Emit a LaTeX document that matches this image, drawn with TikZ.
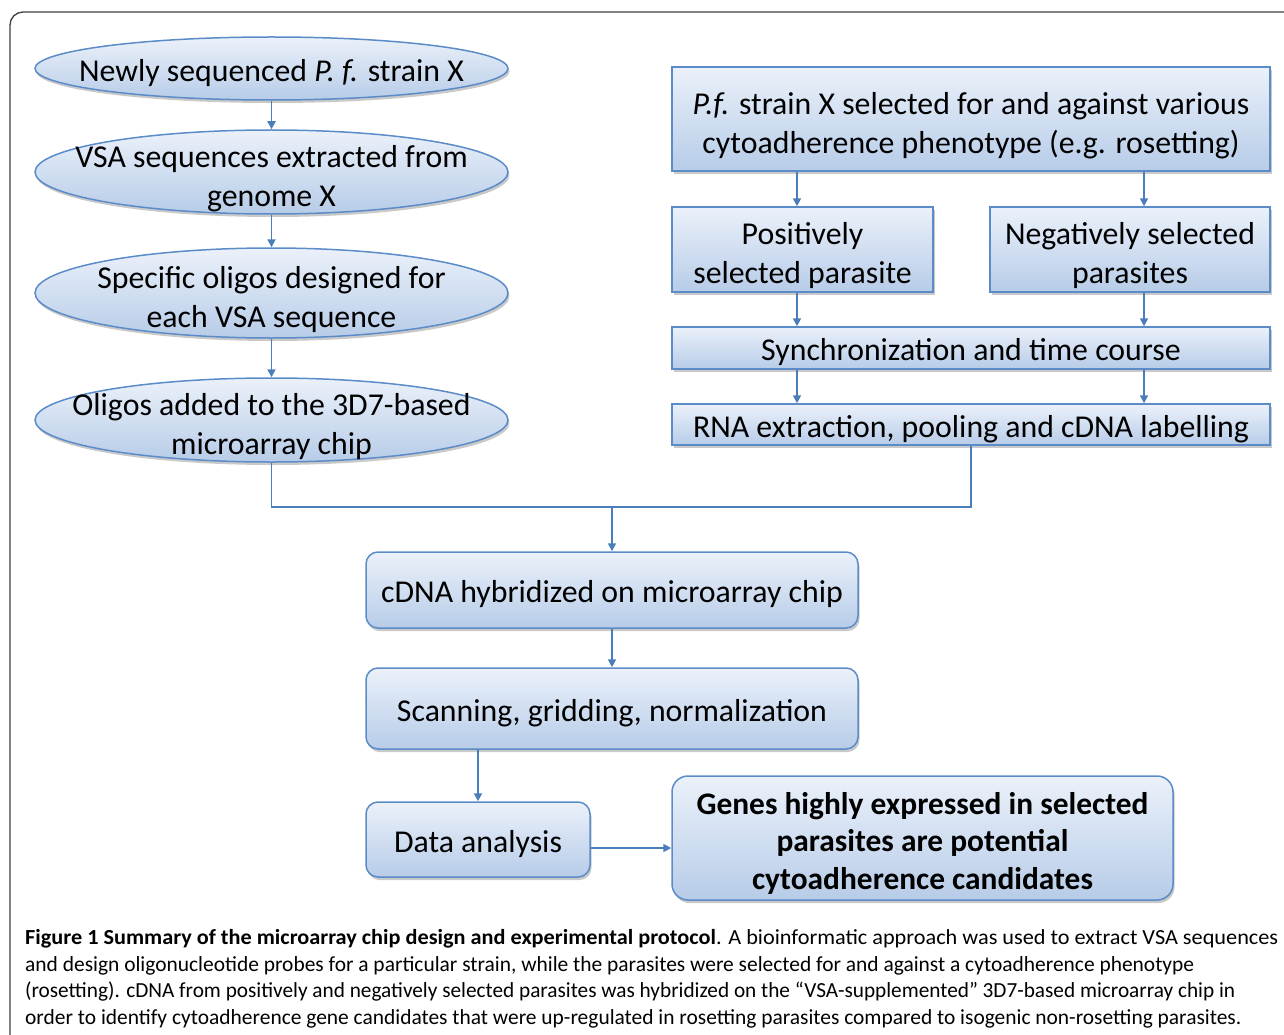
\documentclass[tikz,border=0pt]{standalone}
\usepackage{fontspec}
\usepackage{graphicx}
\setmainfont{Carlito}
\newfontfamily\capfont{Carlito}
\usetikzlibrary{shapes.geometric,arrows.meta,shadows}
\definecolor{bord}{HTML}{5B8CC8}
\definecolor{arrc}{HTML}{4A7EBB}
\definecolor{ftop}{HTML}{EBF1FA}
\definecolor{fbot}{HTML}{B7CCE8}
\newcommand\capline[2]{\resizebox{#1}{\height}{#2}}
\newcommand\tp[1]{\rule{0pt}{\dimexpr\fontcharht\font`(+#1\relax}}
\tikzset{
  boxbase/.style={draw=bord, line width=1.5pt, top color=ftop, bottom color=fbot,
    drop shadow={shadow xshift=1.5pt, shadow yshift=-3pt, opacity=0.35, fill=black!60},
    inner sep=0pt, font=\fontsize{31.8}{39}\selectfont, align=center,
    execute at begin node={\tp{7.5pt}}},
  ell/.style={boxbase, ellipse, execute at begin node={}},
  sq/.style={boxbase, rectangle},
  rnd/.style={boxbase, rectangle, rounded corners=12pt},
  txt/.style={inner sep=0pt, font=\fontsize{31.8}{39}\selectfont, align=center},
  arr/.style={draw=arrc, line width=1.8pt, -{Triangle[width=8pt,length=8pt]}},
  ln/.style={draw=arrc, line width=1.8pt},
  captxt/.style={inner sep=0pt, anchor=base west, font=\capfont\fontsize{21.5}{26}\selectfont}
}
\begin{document}
\begin{tikzpicture}[x=1pt,y=-1pt]
\useasboundingbox (0,0) rectangle (1284,1035);
\clip (0,0) rectangle (1284,1035);
\fill[white] (0,0) rectangle (1284,1035);
\draw[black!75, line width=1.3pt, rounded corners=13pt] (10,1060) -- (10,12) -- (1310,12);

% left column
\node[ell, minimum width=473pt, minimum height=63pt] (e1) at (271.5,68.5) {};
\node[txt] (t1) at (271.5,73) {Newly sequenced \textit{P. f.} strain X};
\node[ell, minimum width=473pt, minimum height=84pt] (e2) at (271.5,172) {};
\node[txt] (t2) at (271.5,179) {VSA sequences extracted from\\genome X};
\node[ell, minimum width=473pt, minimum height=90pt] (e3) at (271.5,293) {};
\node[txt] (t3) at (271.5,300) {Specific oligos designed for\\each VSA sequence};
\node[ell, minimum width=473pt, minimum height=84pt] (e4) at (271.5,420) {};
\node[txt] (t4) at (271.5,427) {Oligos added to the 3D7-based\\microarray chip};

% right column
\node[sq, minimum width=598pt, minimum height=104pt] (r1) at (971,119) {\tp{13pt}\textit{P.f.} strain X selected for and against various\\cytoadherence phenotype (e.g. rosetting)};
\node[sq, minimum width=261pt, minimum height=85pt] (pos) at (802.5,249.5) {\tp{11pt}Positively\\selected parasite};
\node[sq, minimum width=280pt, minimum height=85pt] (neg) at (1130,249.5) {\tp{11pt}Negatively selected\\parasites};
\node[sq, minimum width=598pt, minimum height=42pt] (sync) at (971,348) {Synchronization and time course};
\node[sq, minimum width=598pt, minimum height=41pt] (rna) at (971,424.5) {RNA extraction, pooling and cDNA labelling};

% lower
\node[rnd, minimum width=492pt, minimum height=76pt] (cdna) at (612,590) {cDNA hybridized on microarray chip};
\node[rnd, minimum width=492pt, minimum height=81pt] (scan) at (612,708.5) {Scanning, gridding, normalization};
\node[rnd, minimum width=224pt, minimum height=75pt] (data) at (478,839.5) {Data analysis};
\node[rnd, rounded corners=16pt, minimum width=501pt, minimum height=124pt, font=\bfseries\fontsize{31.4}{37.5}\selectfont] (genes) at (922.5,838) {\tp{9pt}Genes highly expressed in selected\\parasites are potential\\cytoadherence candidates};

% connectors
\coordinate (ax1) at (797,0);
\coordinate (ax2) at (1144,0);
\coordinate (j) at (612,507);
\coordinate (ay) at (0,848);
\draw[arr] (e1.south) -- (e2.north);
\draw[arr] (e2.south) -- (e3.north);
\draw[arr] (e3.south) -- (e4.north);
\draw[arr] (r1.south -| ax1) -- (pos.north -| ax1);
\draw[arr] (r1.south -| ax2) -- (neg.north -| ax2);
\draw[arr] (pos.south -| ax1) -- (sync.north -| ax1);
\draw[arr] (neg.south -| ax2) -- (sync.north -| ax2);
\draw[arr] (sync.south -| ax1) -- (rna.north -| ax1);
\draw[arr] (sync.south -| ax2) -- (rna.north -| ax2);
\draw[ln] (e4.south) |- (j) -| (rna.south);
\draw[arr] (j) -- (cdna.north);
\draw[arr] (cdna.south) -- (scan.north);
\draw[arr] (scan.south -| data.north) -- (data.north);
\draw[arr] (data.east |- ay) -- (genes.west |- ay);

% caption
\node[captxt] (c1) at (25,944) {\capline{1253pt}{\textbf{Figure 1 Summary of the microarray chip design and experimental protocol}. A bioinformatic approach was used to extract VSA sequences}};
\node[captxt] (c2) at (25,971) {\capline{1169pt}{and design oligonucleotide probes for a particular strain, while the parasites were selected for and against a cytoadherence phenotype}};
\node[captxt] (c3) at (25,997) {\capline{1210pt}{(rosetting). cDNA from positively and negatively selected parasites was hybridized on the “VSA-supplemented” 3D7-based microarray chip in}};
\node[captxt] (c4) at (25,1024) {\capline{1216pt}{order to identify cytoadherence gene candidates that were up-regulated in rosetting parasites compared to isogenic non-rosetting parasites.}};
\end{tikzpicture}
\end{document}
